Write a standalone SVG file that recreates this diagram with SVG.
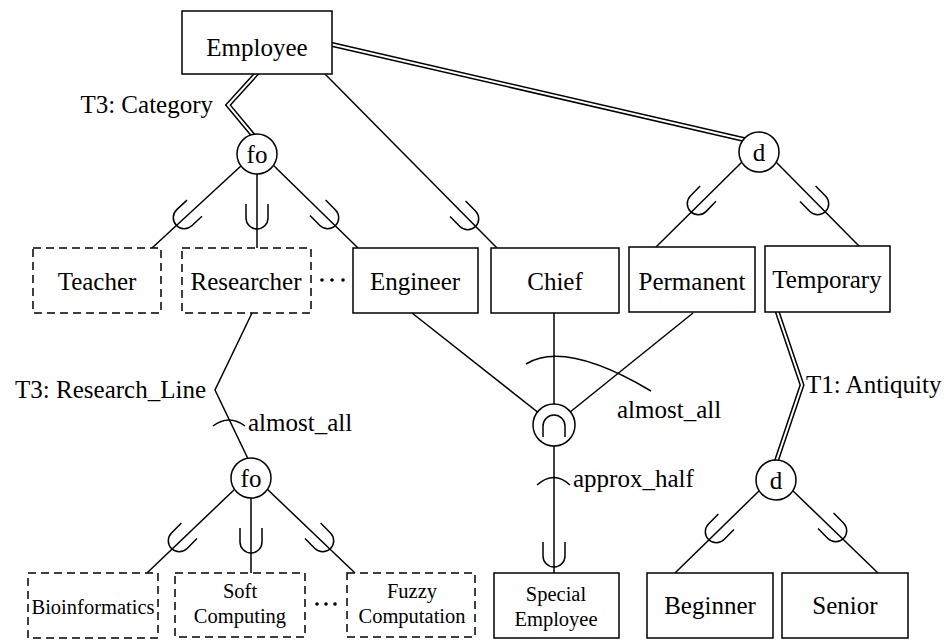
<svg xmlns="http://www.w3.org/2000/svg" width="948" height="640" viewBox="0 0 948 640" font-family="'Liberation Serif', 'Times New Roman', 'DejaVu Serif', serif">
<style>
.box{fill:#fff;stroke:#000;stroke-width:1.5}
.dash{stroke-dasharray:8 5}
.t{font-family:'Liberation Serif','Times New Roman','DejaVu Serif',serif;font-size:25px;fill:#000}
.s{font-size:20.5px}
.ln{fill:none;stroke:#000;stroke-width:1.5}
.dbo{fill:none;stroke:#000;stroke-width:5;stroke-linejoin:miter}
.dbi{fill:none;stroke:#fff;stroke-width:2;stroke-linejoin:miter}
.dot{fill:#000}
</style>
<defs>
<path id="sub" d="M-11,-13 V1 A11,11 0 0 0 11,1 V-13" fill="none" stroke="#000" stroke-width="1.5"/>
</defs>
<rect width="948" height="640" fill="#fff"/>
<g id="connectors">
  <path class="dbo" d="M258,72 L228,105 L257,140"/>
  <path class="dbi" d="M258,72 L228,105 L257,140"/>
  <path class="dbo" d="M330,44 L746,140"/>
  <path class="dbi" d="M330,44 L746,140"/>
  <path class="dbo" d="M777,311 L802,385 L775,465"/>
  <path class="dbi" d="M777,311 L802,385 L775,465"/>
  <line class="ln" x1="325" y1="74" x2="497" y2="248"/>
  <line class="ln" x1="242" y1="165" x2="152" y2="248"/>
  <line class="ln" x1="257" y1="170" x2="257" y2="248"/>
  <line class="ln" x1="272" y1="164" x2="358" y2="248"/>
  <line class="ln" x1="742" y1="162" x2="656" y2="247"/>
  <line class="ln" x1="776" y1="162" x2="860" y2="247"/>
  <line class="ln" x1="412" y1="313" x2="554" y2="425"/>
  <line class="ln" x1="554" y1="313" x2="554" y2="425"/>
  <line class="ln" x1="693" y1="313" x2="554" y2="425"/>
  <line class="ln" x1="554" y1="425" x2="554" y2="573"/>
  <path class="ln" d="M252,313 L215,390 L251,465"/>
  <line class="ln" x1="236" y1="488" x2="147" y2="573"/>
  <line class="ln" x1="251" y1="490" x2="251" y2="573"/>
  <line class="ln" x1="266" y1="488" x2="355" y2="573"/>
  <line class="ln" x1="760" y1="490" x2="675" y2="573"/>
  <line class="ln" x1="792" y1="490" x2="878" y2="573"/>
  <use href="#sub" transform="translate(185,217) rotate(47)"/>
  <use href="#sub" transform="translate(257,217)"/>
  <use href="#sub" transform="translate(327,217) rotate(-45)"/>
  <use href="#sub" transform="translate(467,218) rotate(-45)"/>
  <use href="#sub" transform="translate(699,203) rotate(44)"/>
  <use href="#sub" transform="translate(817,203) rotate(-45)"/>
  <use href="#sub" transform="translate(180,540) rotate(45)"/>
  <use href="#sub" transform="translate(251,541)"/>
  <use href="#sub" transform="translate(322,540) rotate(-45)"/>
  <use href="#sub" transform="translate(554,555)"/>
  <use href="#sub" transform="translate(717,531) rotate(45)"/>
  <use href="#sub" transform="translate(835,530) rotate(-45)"/>
  <path class="ln" d="M526,364 Q565,340 651,391"/>
  <path class="ln" d="M537,485 Q554,470 570,485"/>
  <path class="ln" d="M213,426 Q229,414 245,426"/>
  <text class="t" x="213" y="113" text-anchor="end">T3: Category</text>
  <text class="t" x="206" y="398" text-anchor="end">T3: Research_Line</text>
  <text class="t" x="248" y="431">almost_all</text>
  <text class="t" x="617" y="418">almost_all</text>
  <text class="t" x="573" y="487">approx_half</text>
  <text class="t" x="806" y="393">T1: Antiquity</text>
  <circle class="dot" cx="322" cy="280" r="1.8"/>
  <circle class="dot" cx="332" cy="280" r="1.8"/>
  <circle class="dot" cx="343" cy="280" r="1.8"/>
  <circle class="dot" cx="317" cy="604" r="1.8"/>
  <circle class="dot" cx="326" cy="604" r="1.8"/>
  <circle class="dot" cx="335" cy="604" r="1.8"/>
</g>
<g id="employee"><rect class="box" x="182" y="11" width="150" height="63"/><text class="t" x="257" y="56" text-anchor="middle">Employee</text></g>
<g id="fo1"><circle class="box" cx="257" cy="154" r="20"/><text class="t" x="257" y="163" text-anchor="middle">fo</text></g>
<g id="d1"><circle class="box" cx="759" cy="152" r="20"/><text class="t" x="759" y="161" text-anchor="middle">d</text></g>
<g id="teacher"><rect class="box dash" x="33" y="248" width="128" height="65"/><text class="t" x="97" y="290" text-anchor="middle">Teacher</text></g>
<g id="researcher"><rect class="box dash" x="182" y="248" width="129" height="65"/><text class="t" x="246" y="290" text-anchor="middle">Researcher</text></g>
<g id="engineer"><rect class="box" x="353" y="248" width="125" height="65"/><text class="t" x="415" y="290" text-anchor="middle">Engineer</text></g>
<g id="chief"><rect class="box" x="491" y="248" width="128" height="65"/><text class="t" x="555" y="290" text-anchor="middle">Chief</text></g>
<g id="permanent"><rect class="box" x="629" y="247" width="126" height="65"/><text class="t" x="692" y="290" text-anchor="middle">Permanent</text></g>
<g id="temporary"><rect class="box" x="765" y="246" width="125" height="66"/><text class="t" x="827" y="288" text-anchor="middle">Temporary</text></g>
<g id="intersection"><circle class="box" cx="554" cy="425" r="21"/><path class="ln" d="M543,437 V426 A11,11 0 0 1 565,426 V437"/></g>
<g id="fo2"><circle class="box" cx="251" cy="478" r="20"/><text class="t" x="251" y="487" text-anchor="middle">fo</text></g>
<g id="d2"><circle class="box" cx="776" cy="480" r="20"/><text class="t" x="776" y="489" text-anchor="middle">d</text></g>
<g id="bioinformatics"><rect class="box dash" x="28" y="573" width="130" height="65"/><text class="t s" x="93" y="614" text-anchor="middle">Bioinformatics</text></g>
<g id="softcomputing"><rect class="box dash" x="175" y="573" width="130" height="64"/><text class="t s" x="240" y="598" text-anchor="middle">Soft</text><text class="t s" x="240" y="623" text-anchor="middle">Computing</text></g>
<g id="fuzzycomputation"><rect class="box dash" x="347" y="573" width="128" height="64"/><text class="t s" x="412" y="598" text-anchor="middle">Fuzzy</text><text class="t s" x="412" y="623" text-anchor="middle">Computation</text></g>
<g id="specialemployee"><rect class="box" x="494" y="573" width="125" height="65"/><text class="t s" x="556" y="601" text-anchor="middle">Special</text><text class="t s" x="556" y="626" text-anchor="middle">Employee</text></g>
<g id="beginner"><rect class="box" x="647" y="573" width="126" height="65"/><text class="t" x="710" y="614" text-anchor="middle">Beginner</text></g>
<g id="senior"><rect class="box" x="782" y="573" width="126" height="65"/><text class="t" x="845" y="614" text-anchor="middle">Senior</text></g>
</svg>
